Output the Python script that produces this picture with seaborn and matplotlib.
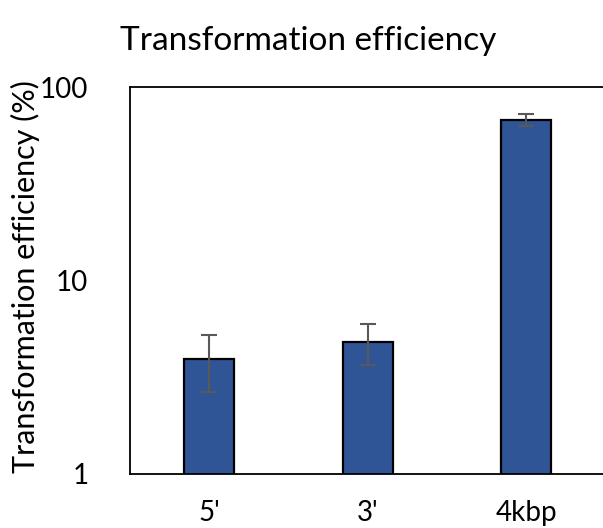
import matplotlib
matplotlib.use("Agg")
import matplotlib.pyplot as plt
import seaborn as sns
import pandas as pd
from matplotlib.ticker import FixedLocator, NullLocator, FixedFormatter

categories = ["5'", "3'", "4kbp"]
values = [3.94, 4.83, 67.5]
errors = [1.3, 1.15, 5.0]
yticks = [1, 10, 100]
yticklabels = ["1", "10", "100"]

sns.set_theme(style="white")
plt.rcParams['font.family'] = ['Lato', 'DejaVu Sans']

df = pd.DataFrame({"cat": categories, "val": values})

fig = plt.figure(figsize=(6.03, 5.28), dpi=100)
ax = fig.add_axes([130/603, 54/528, 475.5/603, 387/528])

sns.barplot(data=df, x="cat", y="val", color="#2F5597", width=0.315,
            edgecolor="black", linewidth=1.6, errorbar=None, ax=ax, saturation=1)
ax.errorbar(x=list(range(len(categories))), y=values, yerr=errors, fmt="none",
            ecolor="#595959", elinewidth=1.5, capsize=6, capthick=1.5, zorder=5)

ax.set_yscale("log")
ax.set_ylim(1, 100)
ax.set_xlim(-0.5, len(categories) - 0.5)
ax.yaxis.set_major_locator(FixedLocator(yticks))
ax.yaxis.set_major_formatter(FixedFormatter(yticklabels))
ax.yaxis.set_minor_locator(NullLocator())
ax.tick_params(axis="y", length=0, labelsize=20, colors="black", pad=30)
ax.tick_params(axis="x", length=0, labelsize=20, colors="black", pad=19)

for s in ["left", "top", "bottom", "right"]:
    ax.spines[s].set_visible(True)
    ax.spines[s].set_color("black")
    ax.spines[s].set_linewidth(1.3)

ax.set_xlabel("")
ax.set_ylabel("Transformation efficiency (%)", fontsize=22, color="black")
ax.yaxis.set_label_coords(-0.19, 0.51)
fig.text(308/603, 1 - 41/528, "Transformation efficiency", ha="center", va="center",
         fontsize=24, color="black")

fig.savefig("out.png", dpi=100)
